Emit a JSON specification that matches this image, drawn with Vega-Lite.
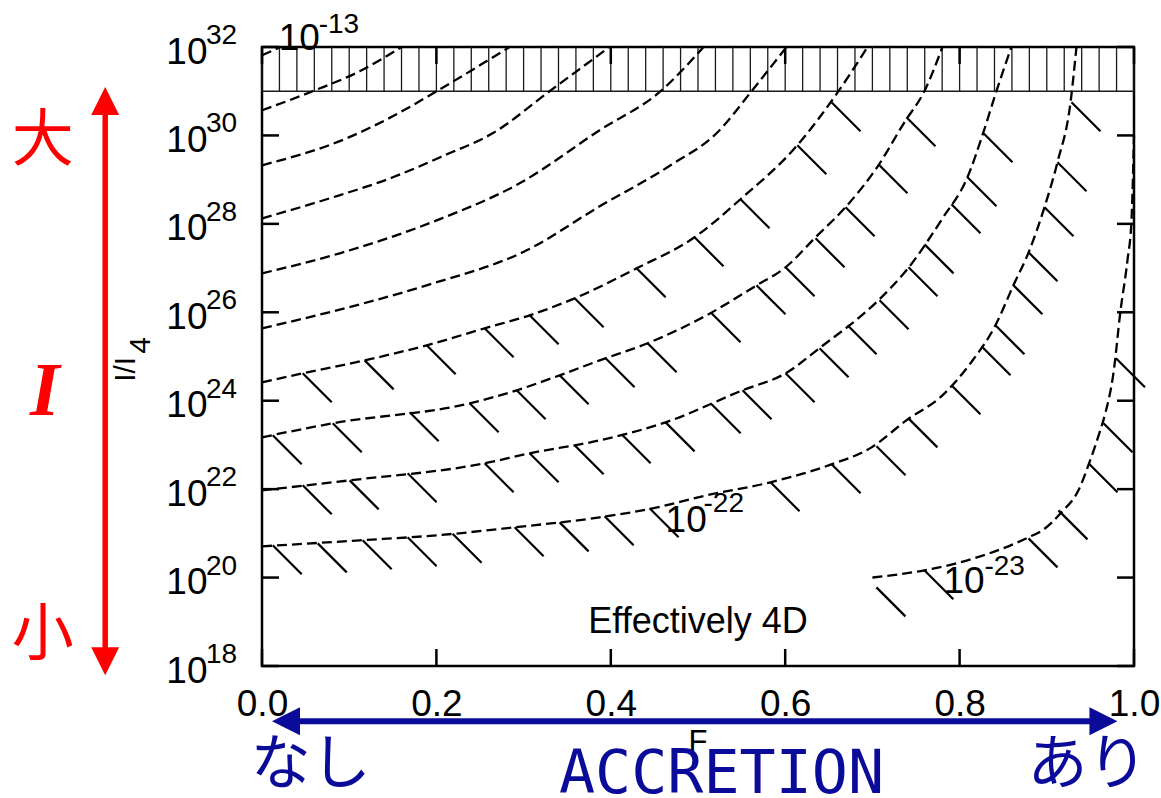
{
 "$schema": "https://vega.github.io/schema/vega-lite/v6.json",
 "autosize": {"type": "none"},
 "padding": {"left": 262, "top": 47, "right": 27, "bottom": 132},
 "width": 872,
 "height": 619,
 "background": "white",
 "config": {"view": {"stroke": "black", "strokeWidth": 2.5}, "font": "Liberation Sans"},
 "datasets": {
  "band": [{"F":0},{"F":0.02},{"F":0.04},{"F":0.06},{"F":0.08},{"F":0.1},{"F":0.12},{"F":0.14},{"F":0.16},{"F":0.18},{"F":0.2},{"F":0.22},{"F":0.24},{"F":0.26},{"F":0.28},{"F":0.3},{"F":0.32},{"F":0.34},{"F":0.36},{"F":0.38},{"F":0.4},{"F":0.42},{"F":0.44},{"F":0.46},{"F":0.48},{"F":0.5},{"F":0.52},{"F":0.54},{"F":0.56},{"F":0.58},{"F":0.6},{"F":0.62},{"F":0.64},{"F":0.66},{"F":0.68},{"F":0.7},{"F":0.72},{"F":0.74},{"F":0.76},{"F":0.78},{"F":0.8},{"F":0.82},{"F":0.84},{"F":0.86},{"F":0.88},{"F":0.9},{"F":0.92},{"F":0.94},{"F":0.96},{"F":0.98},{"F":1}],
  "contours": [
   {"c":"13","F":0,"I":6.49e31},{"c":"13","F":0.0214,"I":1e32},
   {"c":"14","F":0,"I":3.70e30},{"c":"14","F":0.0581,"I":1e31},{"c":"14","F":0.112,"I":2.82e31},{"c":"14","F":0.160,"I":1e32},
   {"c":"15","F":0,"I":2.11e29},{"c":"15","F":0.0971,"I":8.61e29},{"c":"15","F":0.152,"I":2.85e30},{"c":"15","F":0.2003,"I":1e31},{"c":"15","F":0.284,"I":1e32},
   {"c":"16","F":0,"I":1.33e28},{"c":"16","F":0.0776,"I":3.78e28},{"c":"16","F":0.150,"I":1.13e29},{"c":"16","F":0.2093,"I":3.55e29},{"c":"16","F":0.2645,"I":1.12e30},{"c":"16","F":0.3298,"I":1e31},{"c":"16","F":0.3985,"I":1e32},
   {"c":"17","F":0,"I":7.60e26},{"c":"17","F":0.0891,"I":2.16e27},{"c":"17","F":0.2003,"I":1.20e28},{"c":"17","F":0.2954,"I":8.26e28},{"c":"17","F":0.3872,"I":1.31e30},{"c":"17","F":0.4571,"I":1e31},{"c":"17","F":0.5064,"I":1e32},
   {"c":"18","F":0,"I":4.34e25},{"c":"18","F":0.0811,"I":1.05e26},{"c":"18","F":0.1888,"I":4.07e26},{"c":"18","F":0.3035,"I":2.52e27},{"c":"18","F":0.3872,"I":2.49e28},{"c":"18","F":0.4685,"I":2.11e29},{"c":"18","F":0.5224,"I":1.18e30},{"c":"18","F":0.5614,"I":1e31},{"c":"18","F":0.6015,"I":1e32},
   {"c":"19","F":0,"I":2.61e24},{"c":"19","F":0.0467,"I":4.16e24},{"c":"19","F":0.1177,"I":8.18e24},{"c":"19","F":0.1888,"I":1.79e25},{"c":"19","F":0.2553,"I":4.34e25},{"c":"19","F":0.3069,"I":8.53e25},{"c":"19","F":0.3585,"I":2.07e26},{"c":"19","F":0.4296,"I":9.86e26},{"c":"19","F":0.4960,"I":4.97e27},{"c":"19","F":0.5499,"I":3.78e28},{"c":"19","F":0.6118,"I":5.38e29},{"c":"19","F":0.6611,"I":1e31},{"c":"19","F":0.6944,"I":1e32},
   {"c":"20","F":0,"I":1.49e23},{"c":"20","F":0.0811,"I":3.08e23},{"c":"20","F":0.2381,"I":8.73e23},{"c":"20","F":0.2920,"I":1.72e24},{"c":"20","F":0.3413,"I":3.75e24},{"c":"20","F":0.3872,"I":8.18e24},{"c":"20","F":0.4422,"I":1.99e25},{"c":"20","F":0.5098,"I":8.53e25},{"c":"20","F":0.5672,"I":4.07e26},{"c":"20","F":0.6004,"I":1.04e27},{"c":"20","F":0.6348,"I":4.97e27},{"c":"20","F":0.6691,"I":2.37e28},{"c":"20","F":0.7069,"I":2.11e29},{"c":"20","F":0.7367,"I":1.98e30},{"c":"20","F":0.7596,"I":1e31},{"c":"20","F":0.7803,"I":1e32},
   {"c":"21","F":0,"I":9.40e21},{"c":"21","F":0.1005,"I":1.58e22},{"c":"21","F":0.2553,"I":3.84e22},{"c":"21","F":0.3069,"I":6.46e22},{"c":"21","F":0.3872,"I":1.27e23},{"c":"21","F":0.4628,"I":3.24e23},{"c":"21","F":0.5511,"I":1.72e24},{"c":"21","F":0.6004,"I":4.16e24},{"c":"21","F":0.6405,"I":1.61e25},{"c":"21","F":0.7069,"I":1.87e26},{"c":"21","F":0.7390,"I":8.89e26},{"c":"21","F":0.7803,"I":1.33e28},{"c":"21","F":0.8090,"I":1.13e29},{"c":"21","F":0.8262,"I":1.01e30},{"c":"21","F":0.8422,"I":1e31},{"c":"21","F":0.8594,"I":1e32},
   {"c":"22","F":0,"I":5.08e20},{"c":"22","F":0.1120,"I":6.95e20},{"c":"22","F":0.2003,"I":9.02e20},{"c":"22","F":0.2897,"I":1.37e21},{"c":"22","F":0.3872,"I":2.30e21},{"c":"22","F":0.4479,"I":3.68e21},{"c":"22","F":0.5098,"I":7.24e21},{"c":"22","F":0.5832,"I":1.43e22},{"c":"22","F":0.6497,"I":3.45e22},{"c":"22","F":0.6990,"I":8.81e22},{"c":"22","F":0.7390,"I":3.60e23},{"c":"22","F":0.7803,"I":1.32e24},{"c":"22","F":0.8124,"I":7.01e24},{"c":"22","F":0.8411,"I":5.07e25},{"c":"22","F":0.8617,"I":4.07e26},{"c":"22","F":0.8801,"I":2.52e27},{"c":"22","F":0.8973,"I":2.37e28},{"c":"22","F":0.9122,"I":2.47e29},{"c":"22","F":0.9272,"I":5.61e30},{"c":"22","F":0.9340,"I":1e32},
   {"c":"23","F":0.70,"I":1.0e20},{"c":"23","F":0.7596,"I":1.46e20},{"c":"23","F":0.7963,"I":2.10e20},{"c":"23","F":0.8790,"I":8.13e20},{"c":"23","F":0.8950,"I":1.17e21},{"c":"23","F":0.9168,"I":2.99e21},{"c":"23","F":0.9363,"I":9.40e21},{"c":"23","F":0.9489,"I":4.04e22},{"c":"23","F":0.9604,"I":1.88e23},{"c":"23","F":0.9673,"I":5.38e23},{"c":"23","F":0.9764,"I":4.16e24},{"c":"23","F":0.9845,"I":1.08e26},{"c":"23","F":0.9925,"I":1.50e27},{"c":"23","F":0.9971,"I":1.20e28},{"c":"23","F":0.9993,"I":2.74e29},{"c":"23","F":1.0,"I":1.0e30}
  ],
  "hatch": [
   {"F":0.0467,"I":4.16e24},{"F":0.1177,"I":8.18e24},{"F":0.1888,"I":1.79e25},{"F":0.2553,"I":4.34e25},{"F":0.3069,"I":8.53e25},{"F":0.3585,"I":2.07e26},{"F":0.4296,"I":9.86e26},{"F":0.4960,"I":4.97e27},{"F":0.5488,"I":3.59e28},{"F":0.6139,"I":5.98e29},{"F":0.6531,"I":5.61e30},
   {"F":0.0123,"I":1.65e23},{"F":0.0811,"I":3.08e23},{"F":0.1693,"I":5.46e23},{"F":0.2381,"I":8.73e23},{"F":0.2920,"I":1.72e24},{"F":0.3413,"I":3.75e24},{"F":0.3940,"I":9.10e24},{"F":0.4422,"I":1.99e25},{"F":0.5155,"I":9.47e25},{"F":0.5671,"I":4.07e26},{"F":0.6004,"I":1.04e27},{"F":0.6348,"I":4.71e27},{"F":0.6692,"I":2.37e28},{"F":0.7069,"I":2.22e29},{"F":0.7390,"I":2.57e30},
   {"F":0.0467,"I":1.22e22},{"F":0.1005,"I":1.58e22},{"F":0.1670,"I":2.28e22},{"F":0.2553,"I":3.84e22},{"F":0.3069,"I":6.46e22},{"F":0.3585,"I":9.79e22},{"F":0.4124,"I":1.74e23},{"F":0.4628,"I":3.24e23},{"F":0.5156,"I":8.28e23},{"F":0.5511,"I":1.72e24},{"F":0.6004,"I":4.16e24},{"F":0.6394,"I":1.53e25},{"F":0.6715,"I":5.07e25},{"F":0.7082,"I":1.87e26},{"F":0.7414,"I":1.04e27},{"F":0.7598,"I":3.44e27},{"F":0.7907,"I":2.77e28},{"F":0.8090,"I":1.13e29},{"F":0.8274,"I":1.12e30},
   {"F":0.0123,"I":5.36e20},{"F":0.0639,"I":5.94e20},{"F":0.1154,"I":6.95e20},{"F":0.1670,"I":8.13e20},{"F":0.2186,"I":9.75e20},{"F":0.2897,"I":1.37e21},{"F":0.3413,"I":1.77e21},{"F":0.3929,"I":2.43e21},{"F":0.4445,"I":3.68e21},{"F":0.5832,"I":1.43e22},{"F":0.6532,"I":3.64e22},{"F":0.7047,"I":9.29e22},{"F":0.7413,"I":3.99e23},{"F":0.7906,"I":2.23e24},{"F":0.8251,"I":1.70e25},{"F":0.8411,"I":5.07e25},{"F":0.8617,"I":4.07e26},{"F":0.8790,"I":2.27e27},{"F":0.8973,"I":2.37e28},{"F":0.9122,"I":2.47e29},{"F":0.9283,"I":5.61e30},
   {"F":0.7046,"I":6.01e19},{"F":0.7596,"I":1.46e20},{"F":0.8790,"I":7.71e20},{"F":0.9134,"I":3.31e21},{"F":0.9478,"I":3.84e22},{"F":0.9650,"I":3.08e23},{"F":0.9793,"I":9.10e24}
  ],
  "yticks": [{"I":1e18,"e":"18"},{"I":1e20,"e":"20"},{"I":1e22,"e":"22"},{"I":1e24,"e":"24"},{"I":1e26,"e":"26"},{"I":1e28,"e":"28"},{"I":1e30,"e":"30"},{"I":1e32,"e":"32"}],
  "xticks": [{"F":0},{"F":0.2},{"F":0.4},{"F":0.6},{"F":0.8},{"F":1}],
  "annot": [
   {"name":"c10","t":"10","F":0.0191,"I":8.42e31},
   {"name":"c10","t":"10","F":0.4628,"I":1.055e21},
   {"name":"c10","t":"10","F":0.7815,"I":4.40e19},
   {"name":"cexp","t":"-13","F":0.065,"I":2.04e32},
   {"name":"cexp","t":"-22","F":0.5063,"I":2.99e21},
   {"name":"cexp","t":"-23","F":0.8285,"I":1.12e20},
   {"name":"e4d","t":"Effectively 4D","F":0.5,"I":5.47e18},
   {"name":"xt","t":"F","F":0.5,"I":1.11e16},
   {"name":"yt","t":"I/I","F":-0.1459,"I":5.13e24},
   {"name":"yt","t":"4","F":-0.1288,"I":1.79e25},
   {"name":"big","t":"大","F":-0.2514,"I":2.60e29},
   {"name":"big","t":"小","F":-0.2514,"I":1.74e18},
   {"name":"itl","t":"I","F":-0.2491,"I":4.67e23},
   {"name":"jp","t":"なし","F":0.0558,"I":2.10e15},
   {"name":"jp","t":"あり","F":0.9466,"I":2.10e15},
   {"name":"acc","t":"ACCRETION","F":0.527,"I":1.35e15}
  ],
  "arrows": [
   {"name":"red","F":-0.1798,"I":1.245e31,"I2":6.14e17,"S1":6.22e30,"S2":1.21e18},
   {"name":"blue","F":0.01146,"F2":0.981,"I":5.60e16,"S1":0.0318,"S2":0.9603}
  ]
 },
 "layer": [
  {"data":{"name":"band"},"mark":{"type":"rule","stroke":"#1a1a1a","strokeWidth":1.3},
   "encoding":{"x":{"field":"F","type":"quantitative"},"y":{"datum":1e31,"type":"quantitative"},"y2":{"datum":1e32}}},
  {"data":{"values":[{}]},"mark":{"type":"rule","stroke":"#1a1a1a","strokeWidth":1.6},
   "encoding":{"y":{"datum":1e31,"type":"quantitative"}}},
  {"data":{"name":"contours"},"mark":{"type":"line","stroke":"black","strokeWidth":2.3,"strokeDash":[10,5],"interpolate":"monotone"},
   "encoding":{
    "x":{"field":"F","type":"quantitative","scale":{"domain":[0,1],"nice":false,"zero":false},
     "axis":{"title":null,"values":[0,0.2,0.4,0.6,0.8,1],"format":".1f","labelFont":"Liberation Sans","labelFontSize":37,"labelColor":"black","labelBaseline":"alphabetic","labelPadding":49,"labelFlush":false,"labelOverlap":false,"ticks":false,"tickSize":0,"domain":false,"grid":false}},
    "y":{"field":"I","type":"quantitative","scale":{"type":"log","domain":[1e18,1e32],"nice":false},
     "axis":{"title":null,"values":[1e18,1e20,1e22,1e24,1e26,1e28,1e30,1e32],"labelExpr":"'10'","labelFont":"Liberation Sans","labelFontSize":37,"labelColor":"black","labelBaseline":"alphabetic","labelOffset":16,"labelPadding":55,"labelOverlap":false,"ticks":false,"tickSize":0,"domain":false,"grid":false}},
    "detail":{"field":"c","type":"nominal"}}},
  {"data":{"name":"hatch"},"mark":{"type":"point","shape":"M0,0L1,1","size":3364,"filled":false,"stroke":"black","strokeWidth":2.2,"opacity":1},
   "encoding":{"x":{"field":"F","type":"quantitative"},"y":{"field":"I","type":"quantitative"}}},
  {"data":{"name":"yticks"},"mark":{"type":"point","shape":"M0,0L1,0","size":1156,"filled":false,"stroke":"black","strokeWidth":2.5,"opacity":1},
   "encoding":{"x":{"datum":0,"type":"quantitative"},"y":{"field":"I","type":"quantitative"}}},
  {"data":{"name":"yticks"},"mark":{"type":"point","shape":"M0,0L-1,0","size":1156,"filled":false,"stroke":"black","strokeWidth":2.5,"opacity":1},
   "encoding":{"x":{"datum":1,"type":"quantitative"},"y":{"field":"I","type":"quantitative"}}},
  {"data":{"name":"xticks"},"mark":{"type":"point","shape":"M0,0L0,-1","size":1156,"filled":false,"stroke":"black","strokeWidth":2.5,"opacity":1},
   "encoding":{"x":{"field":"F","type":"quantitative"},"y":{"datum":1e18,"type":"quantitative"}}},
  {"data":{"name":"xticks"},"mark":{"type":"point","shape":"M0,0L0,1","size":1156,"filled":false,"stroke":"black","strokeWidth":2.5,"opacity":1},
   "encoding":{"x":{"field":"F","type":"quantitative"},"y":{"datum":1e32,"type":"quantitative"}}},
  {"data":{"name":"yticks"},"mark":{"type":"text","align":"left","baseline":"alphabetic","dx":-56,"dy":-3,"fontSize":28,"font":"Liberation Sans","color":"black"},
   "encoding":{"x":{"datum":0,"type":"quantitative"},"y":{"field":"I","type":"quantitative"},"text":{"field":"e","type":"nominal"}}},
  {"data":{"name":"annot"},"transform":[{"filter":"datum.name == 'c10'"}],
   "mark":{"type":"text","align":"left","baseline":"alphabetic","fontSize":37,"font":"Liberation Sans","color":"black"},
   "encoding":{"x":{"field":"F","type":"quantitative"},"y":{"field":"I","type":"quantitative"},"text":{"field":"t","type":"nominal"}}},
  {"data":{"name":"annot"},"transform":[{"filter":"datum.name == 'cexp'"}],
   "mark":{"type":"text","align":"left","baseline":"alphabetic","fontSize":28,"font":"Liberation Sans","color":"black"},
   "encoding":{"x":{"field":"F","type":"quantitative"},"y":{"field":"I","type":"quantitative"},"text":{"field":"t","type":"nominal"}}},
  {"data":{"name":"annot"},"transform":[{"filter":"datum.name == 'e4d'"}],
   "mark":{"type":"text","align":"center","baseline":"alphabetic","fontSize":36,"font":"Liberation Sans","color":"black"},
   "encoding":{"x":{"field":"F","type":"quantitative"},"y":{"field":"I","type":"quantitative"},"text":{"field":"t","type":"nominal"}}},
  {"data":{"name":"annot"},"transform":[{"filter":"datum.name == 'xt'"}],
   "mark":{"type":"text","align":"center","baseline":"alphabetic","fontSize":31,"font":"Liberation Sans","color":"black"},
   "encoding":{"x":{"field":"F","type":"quantitative"},"y":{"field":"I","type":"quantitative"},"text":{"field":"t","type":"nominal"}}},
  {"data":{"name":"annot"},"transform":[{"filter":"datum.name == 'yt'"}],
   "mark":{"type":"text","align":"center","baseline":"alphabetic","angle":270,"fontSize":30,"font":"Liberation Sans","color":"black"},
   "encoding":{"x":{"field":"F","type":"quantitative"},"y":{"field":"I","type":"quantitative"},"text":{"field":"t","type":"nominal"}}},
  {"data":{"name":"arrows"},"transform":[{"filter":"datum.name == 'red'"}],
   "mark":{"type":"rule","stroke":"#ff0000","strokeWidth":5.5},
   "encoding":{"x":{"field":"F","type":"quantitative"},"y":{"field":"S1","type":"quantitative"},"y2":{"field":"S2"}}},
  {"data":{"name":"arrows"},"transform":[{"filter":"datum.name == 'red'"}],
   "mark":{"type":"point","shape":"M0,0L-1,2L1,2Z","size":784,"filled":true,"fill":"#ff0000","strokeWidth":0,"opacity":1},
   "encoding":{"x":{"field":"F","type":"quantitative"},"y":{"field":"I","type":"quantitative"}}},
  {"data":{"name":"arrows"},"transform":[{"filter":"datum.name == 'red'"}],
   "mark":{"type":"point","shape":"M0,0L-1,-2L1,-2Z","size":784,"filled":true,"fill":"#ff0000","strokeWidth":0,"opacity":1},
   "encoding":{"x":{"field":"F","type":"quantitative"},"y":{"field":"I2","type":"quantitative"}}},
  {"data":{"name":"arrows"},"transform":[{"filter":"datum.name == 'blue'"}],
   "mark":{"type":"rule","stroke":"#0b0b99","strokeWidth":6},
   "encoding":{"x":{"field":"S1","type":"quantitative"},"x2":{"field":"S2"},"y":{"field":"I","type":"quantitative"}}},
  {"data":{"name":"arrows"},"transform":[{"filter":"datum.name == 'blue'"}],
   "mark":{"type":"point","shape":"M0,0L2,-1L2,1Z","size":784,"filled":true,"fill":"#0b0b99","strokeWidth":0,"opacity":1},
   "encoding":{"x":{"field":"F","type":"quantitative"},"y":{"field":"I","type":"quantitative"}}},
  {"data":{"name":"arrows"},"transform":[{"filter":"datum.name == 'blue'"}],
   "mark":{"type":"point","shape":"M0,0L-2,-1L-2,1Z","size":784,"filled":true,"fill":"#0b0b99","strokeWidth":0,"opacity":1},
   "encoding":{"x":{"field":"F2","type":"quantitative"},"y":{"field":"I","type":"quantitative"}}},
  {"data":{"name":"annot"},"transform":[{"filter":"datum.name == 'big'"}],
   "mark":{"type":"text","align":"center","baseline":"alphabetic","fontSize":62,"font":"Noto Sans CJK JP","color":"#ff0000"},
   "encoding":{"x":{"field":"F","type":"quantitative"},"y":{"field":"I","type":"quantitative"},"text":{"field":"t","type":"nominal"}}},
  {"data":{"name":"annot"},"transform":[{"filter":"datum.name == 'itl'"}],
   "mark":{"type":"text","align":"center","baseline":"alphabetic","fontSize":76,"font":"Liberation Serif","fontStyle":"italic","fontWeight":"bold","color":"#ff0000"},
   "encoding":{"x":{"field":"F","type":"quantitative"},"y":{"field":"I","type":"quantitative"},"text":{"field":"t","type":"nominal"}}},
  {"data":{"name":"annot"},"transform":[{"filter":"datum.name == 'jp'"}],
   "mark":{"type":"text","align":"center","baseline":"alphabetic","fontSize":60,"font":"Noto Sans CJK JP","color":"#0b0b99"},
   "encoding":{"x":{"field":"F","type":"quantitative"},"y":{"field":"I","type":"quantitative"},"text":{"field":"t","type":"nominal"}}},
  {"data":{"name":"annot"},"transform":[{"filter":"datum.name == 'acc'"}],
   "mark":{"type":"text","align":"center","baseline":"alphabetic","fontSize":60,"font":"DejaVu Sans Mono","color":"#0b0b99"},
   "encoding":{"x":{"field":"F","type":"quantitative"},"y":{"field":"I","type":"quantitative"},"text":{"field":"t","type":"nominal"}}}
 ]
}
